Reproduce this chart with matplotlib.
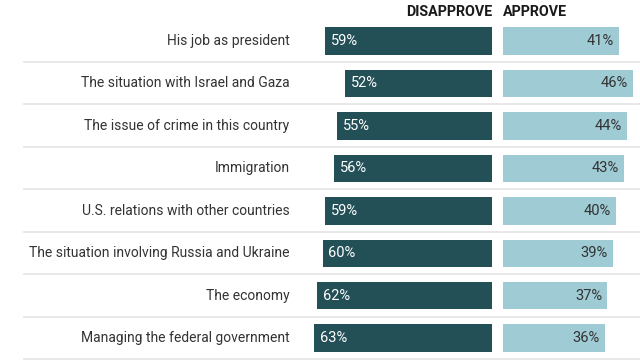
import matplotlib.pyplot as plt
import numpy as np

plt.rcParams['font.family'] = ['Roboto', 'DejaVu Sans']

categories = [
    "His job as president",
    "The situation with Israel and Gaza",
    "The issue of crime in this country",
    "Immigration",
    "U.S. relations with other countries",
    "The situation involving Russia and Ukraine",
    "The economy",
    "Managing the federal government",
]
disapprove = [59, 52, 55, 56, 59, 60, 62, 63]
approve = [41, 46, 44, 43, 40, 39, 37, 36]

dark = "#234f57"
light = "#9ecbd4"

fig = plt.figure(figsize=(6.4, 3.6), dpi=100)
ax = fig.add_axes([0, 0, 1, 1])

# x in percent units, 2.83 px per percent, zero at the disapprove bar end
ppx = 2.83
x0 = 492.3
ax.set_xlim(-x0 / ppx, (640 - x0) / ppx)
ax.set_ylim(360, 0)
ax.axis("off")

gap = 10.4 / ppx
step = 42.45
y = 41 + step * np.arange(len(categories))
h = 27.5

ax.barh(y, [-d for d in disapprove], height=h, color=dark)
ax.barh(y, approve, left=gap, height=h, color=light)

for yi, cat, d, a in zip(y, categories, disapprove, approve):
    ax.text(-71.6, yi, cat, ha="right", va="center", fontsize=10, color="#333333")
    ax.text(-d + 2.1, yi, f"{d}%", ha="left", va="center", fontsize=10.5, color="white")
    ax.text(gap + a - 1.8, yi, f"{a}%", ha="right", va="center", fontsize=10.5, color="#333333")
    ax.plot([-165.4, 60], [yi + 21, yi + 21], color="#e6e6e6", lw=1.3, zorder=0)

ax.text(0, 12, "DISAPPROVE", ha="right", va="center", fontsize=10.3, fontweight="bold", color="#1a1a1a")
ax.text(gap, 12, "APPROVE", ha="left", va="center", fontsize=10.3, fontweight="bold", color="#1a1a1a")

fig.savefig("out.png", dpi=100)
